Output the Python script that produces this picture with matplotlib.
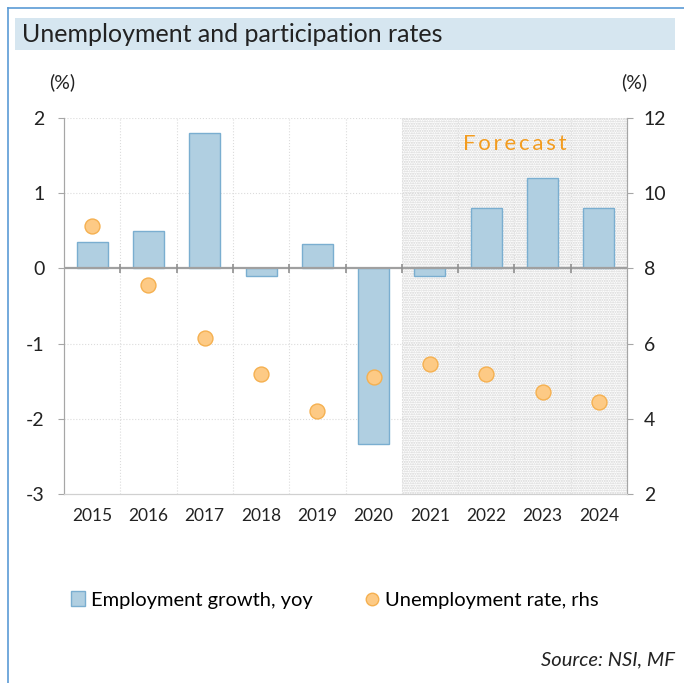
import numpy as np
import matplotlib as mpl
mpl.use("Agg")
from matplotlib import pyplot as plt
from matplotlib.patches import Rectangle
from matplotlib.lines import Line2D

plt.rcParams['font.family'] = ['Lato', 'DejaVu Sans']
plt.rcParams['hatch.linewidth'] = 1.0

years       = ['2015', '2016', '2017', '2018', '2019', '2020', '2021', '2022', '2023', '2024']
emp_growth  = [0.35, 0.5, 1.8, -0.1, 0.33, -2.33, -0.1, 0.8, 1.2, 0.8]
unemp_rate  = [9.14, 7.55, 6.14, 5.18, 4.2, 5.1, 5.45, 5.2, 4.7, 4.46]
first_fcst  = '2021'

W, H = 684, 683
fig = plt.figure(figsize=(W/100, H/100), dpi=100)

def fx(px): return px / W
def fy(py): return 1 - py / H

# frame and title band
border = '#5b9bd5'
fig.add_artist(Line2D([fx(8), fx(8)], [fy(8), 0], color=border, lw=1.2))
fig.add_artist(Line2D([fx(8), 1], [fy(8), fy(8)], color=border, lw=1.2))
fig.add_artist(Rectangle((fx(15), fy(50)), fx(675) - fx(15), fy(18) - fy(50),
                         transform=fig.transFigure, facecolor='#d6e6f0', edgecolor='none'))
fig.text(fx(22), fy(35), 'Unemployment and participation rates', fontsize=18,
         va='center', ha='left', color='#222222')

ax = fig.add_axes([fx(64), fy(494), fx(627) - fx(64), fy(118) - fy(494)])
ax2 = ax.twinx()

x = np.arange(len(years))
n = len(years)
ax.set_xlim(-0.5, n - 0.5)
ax.set_ylim(-3, 2)
ax2.set_ylim(2, 12)

# forecast shading
i0 = years.index(first_fcst)
ax.axvspan(i0 - 0.5, n - 0.5, facecolor='white', edgecolor='#d4d4d4', hatch='.......',
           lw=0, zorder=0)
ax.text((i0 - 0.5 + n - 0.5) / 2, 1.66, 'F\u2009o\u2009r\u2009e\u2009c\u2009a\u2009s\u2009t',
        color='#f39c1f', fontsize=16, ha='center', va='center', zorder=5)

# grid
bounds = np.arange(n + 1) - 0.5
for b in bounds[1:-1]:
    ax.axvline(b, color='#dcdcdc', lw=0.8, ls=':', zorder=1)
for yv in [-2, -1, 1, 2]:
    ax.axhline(yv, color='#dcdcdc', lw=0.8, ls=':', zorder=1)

ax.bar(x, emp_growth, width=0.55, color='#b0cfe1', edgecolor='#7aaed0', lw=1, zorder=3)
ax.axhline(0, color='#a0a0a0', lw=1.6, zorder=4)
ax.vlines(bounds[1:-1], -0.06, 0.06, color='#909090', lw=1.2, zorder=4)

ax2.scatter(x, unemp_rate, s=115, color='#fdca85', edgecolor='#f5b050', lw=1, zorder=5)

for a in (ax, ax2):
    a.spines['top'].set_visible(False)
    a.spines['left'].set_color('#a6a6a6')
    a.spines['right'].set_color('#a6a6a6')
    a.spines['bottom'].set_color('#d0d0d0')
ax.set_zorder(ax2.get_zorder() - 1)
ax.patch.set_visible(False)
ax2.patch.set_visible(False)

ax.set_xticks(x)
ax.set_xticklabels(years, fontsize=12.5, color='#222222')
ax.tick_params(axis='x', length=0, pad=10)
ax.set_yticks([-3, -2, -1, 0, 1, 2])
ax.set_yticklabels(['-3', '-2', '-1', '0', '1', '2'], fontsize=14, color='#222222')
ax.tick_params(axis='y', length=4, color='#a6a6a6', pad=10)
ax2.set_yticks([2, 4, 6, 8, 10, 12])
ax2.tick_params(axis='y', length=4, color='#a6a6a6', labelsize=14, labelcolor='#222222', pad=8)

fig.text(fx(62), fy(82), '(%)', fontsize=14, ha='center', va='center', color='#222222')
fig.text(fx(634), fy(82), '(%)', fontsize=14, ha='center', va='center', color='#222222')

handles = [
    Rectangle((0, 0), 1, 1, facecolor='#b0cfe1', edgecolor='#7aaed0', lw=1),
    Line2D([], [], ls='', marker='o', ms=9, mfc='#fdca85', mec='#f5b050'),
]
fig.legend(handles, ['Employment growth, yoy', 'Unemployment rate, rhs'],
           loc='center', bbox_to_anchor=(fx(335), fy(600)), ncol=2, frameon=False,
           fontsize=14.5, handlelength=0.7, handletextpad=0.3, columnspacing=2.6)

fig.text(fx(675), fy(660), 'Source: NSI, MF', fontsize=14.5, style='italic',
         ha='right', va='center', color='#222222')

fig.savefig('out.png', dpi=100)
